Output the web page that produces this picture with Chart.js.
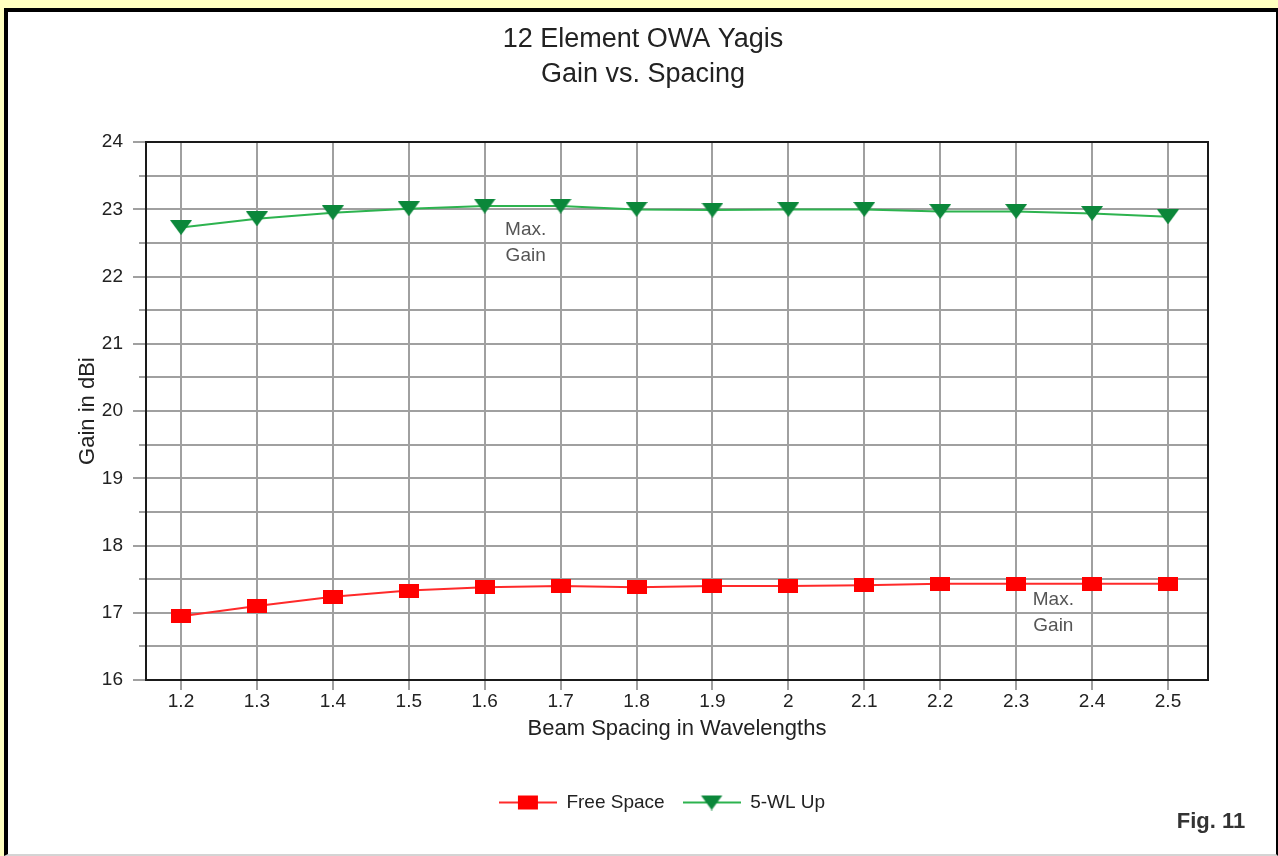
<!DOCTYPE html>
<html>
<head>
<meta charset="utf-8">
<title>12 Element OWA Yagis - Gain vs. Spacing</title>
<script src="https://cdn.jsdelivr.net/npm/chart.js@4.4.0/dist/chart.umd.min.js"></script>
<style>
  html, body { margin: 0; padding: 0; width: 1278px; height: 856px; overflow: hidden; background: #ffffc0; }
  #panel { position: absolute; left: 4px; top: 8px; width: 1268px; height: 842px; background: #fff;
           border-left: 4px solid #000; border-top: 4px solid #000; border-right: 2px solid #000; border-bottom: 2px solid #d4d4d4; }
  #wrap { position: absolute; left: 0; top: 0; width: 1278px; height: 856px; }
  #fig { position: absolute; left: 1161px; top: 808px; width: 100px; text-align: center;
         font: bold 22px 'Liberation Sans', Arial, sans-serif; color: #333; }
</style>
</head>
<body>
<div id="panel"></div>
<div id="wrap"><canvas id="chart" width="1278" height="856"></canvas></div>
<div id="fig">Fig. 11</div>
<script>
// Beam spacing (wavelengths) and gain (dBi) for the two antenna heights
const spacing   = [1.2, 1.3, 1.4, 1.5, 1.6, 1.7, 1.8, 1.9, 2.0, 2.1, 2.2, 2.3, 2.4, 2.5];
const freeSpace = [16.95, 17.10, 17.24, 17.33, 17.38, 17.40, 17.38, 17.40, 17.40, 17.41, 17.43, 17.43, 17.43, 17.43];
const fiveWlUp  = [22.73, 22.86, 22.95, 23.01, 23.05, 23.05, 23.00, 22.99, 23.00, 23.00, 22.97, 22.97, 22.94, 22.89];
const yLabels   = [16, 17, 18, 19, 20, 21, 22, 23, 24];

// "Max. Gain" notes, placed in data coordinates
const notes = [
  { x: 1.654, y: 22.69, lines: ['Max.', 'Gain'] },
  { x: 2.349, y: 17.19, lines: ['Max.', 'Gain'] }
];

const FONT = "'Liberation Sans', Arial, sans-serif";
Chart.defaults.font.family = FONT;
Chart.defaults.color = '#222';

function makeCanvas(w, h, paint) {
  const c = document.createElement('canvas');
  c.width = w; c.height = h;
  paint(c.getContext('2d'), w, h);
  return c;
}
const redSquare = makeCanvas(20, 14, (g, w, h) => { g.fillStyle = '#ff0000'; g.fillRect(0, 0, w, h); });
const greenTri = makeCanvas(22, 15, (g, w, h) => {
  g.fillStyle = '#0b873a';
  g.beginPath(); g.moveTo(0, 0); g.lineTo(w, 0); g.lineTo(w / 2, h); g.closePath(); g.fill();
});
function legendIcon(color, marker) {
  return makeCanvas(58, 16, (g, w, h) => {
    g.strokeStyle = color; g.lineWidth = 2;
    g.beginPath(); g.moveTo(0, h / 2); g.lineTo(w, h / 2); g.stroke();
    g.drawImage(marker, (w - marker.width) / 2, (h - marker.height) / 2);
  });
}
const legendIcons = [legendIcon('#ff2a2a', redSquare), legendIcon('#2db34f', greenTri)];

const plotFrame = {
  id: 'plotFrame',
  afterLayout(chart) {
    // centre the title over the panel and the legend under the plot
    if (chart.titleBlock) { chart.titleBlock.left += 39; chart.titleBlock.right += 39; }
    if (chart.legend) { chart.legend.left += 58; chart.legend.right += 58; }
  },
  beforeDatasetsDraw(chart) {
    const { ctx, chartArea: a, scales: { x, y } } = chart;
    ctx.save();
    ctx.strokeStyle = '#a0a0a0';
    ctx.lineWidth = 2;
    ctx.beginPath();
    y.ticks.forEach(t => {
      const py = Math.round(y.getPixelForValue(t.value));
      const len = Number.isInteger(t.value) ? 13 : 7;
      ctx.moveTo(a.left - len, py); ctx.lineTo(a.left, py);
    });
    x.ticks.forEach(t => {
      const px = Math.round(x.getPixelForValue(t.value));
      ctx.moveTo(px, a.bottom); ctx.lineTo(px, a.bottom + 10);
    });
    ctx.stroke();
    ctx.strokeStyle = '#1a1a1a';
    ctx.strokeRect(Math.round(a.left), Math.round(a.top), Math.round(a.width), Math.round(a.height));
    ctx.restore();
  },
  afterDatasetsDraw(chart) {
    const { ctx, scales: { x, y } } = chart;
    ctx.save();
    ctx.font = '19px ' + FONT;
    ctx.fillStyle = '#555';
    ctx.textAlign = 'center';
    ctx.textBaseline = 'middle';
    notes.forEach(n => {
      const px = x.getPixelForValue(n.x), py = y.getPixelForValue(n.y);
      n.lines.forEach((s, i) => ctx.fillText(s, px, py + i * 26));
    });
    ctx.restore();
  }
};

new Chart(document.getElementById('chart'), {
  type: 'line',
  data: {
    datasets: [
      {
        label: 'Free Space',
        data: spacing.map((v, i) => ({ x: v, y: freeSpace[i] })),
        borderColor: '#ff2a2a', backgroundColor: '#ff0000', borderWidth: 2,
        pointStyle: redSquare, pointRadius: 10, tension: 0
      },
      {
        label: '5-WL Up',
        data: spacing.map((v, i) => ({ x: v, y: fiveWlUp[i] })),
        borderColor: '#2db34f', backgroundColor: '#0b873a', borderWidth: 2,
        pointStyle: greenTri, pointRadius: 10, tension: 0
      }
    ]
  },
  options: {
    responsive: false,
    animation: false,
    devicePixelRatio: 1,
    layout: { padding: { left: 0, right: 70, top: 0, bottom: 34 } },
    scales: {
      x: {
        type: 'linear',
        min: 1.1539, max: 2.5527,
        afterBuildTicks: s => { s.ticks = spacing.map(v => ({ value: v })); },
        afterFit: s => { s.height = 95; },
        grid: { color: '#a0a0a0', lineWidth: 2, drawTicks: false },
        border: { display: false },
        ticks: { padding: 10, autoSkip: false, maxRotation: 0, color: '#222', font: { size: 19 }, callback: v => String(v) },
        title: { display: true, text: 'Beam Spacing in Wavelengths', color: '#222', font: { size: 22 }, padding: { top: 0, bottom: 33 } }
      },
      y: {
        min: 16, max: 24,
        afterFit: s => { s.width = 146; },
        grid: { color: '#a0a0a0', lineWidth: 2, drawTicks: false },
        border: { display: false },
        ticks: { stepSize: 0.5, autoSkip: false, padding: 23, color: '#222', font: { size: 19 },
                 callback: v => yLabels.includes(v) ? String(v) : '' },
        title: { display: true, text: 'Gain in dBi', color: '#222', font: { size: 22 }, padding: { top: 75, bottom: 0 } }
      }
    },
    plugins: {
      title: {
        display: true,
        text: ['12 Element OWA Yagis', 'Gain vs. Spacing'],
        color: '#222',
        font: { size: 27, weight: 'normal', lineHeight: 1.3 },
        padding: { top: 22, bottom: 50 }
      },
      legend: {
        position: 'bottom',
        labels: {
          usePointStyle: true, pointStyleWidth: 58, padding: 18, color: '#222', font: { size: 19 },
          generateLabels(chart) {
            const items = Chart.defaults.plugins.legend.labels.generateLabels(chart);
            items.forEach((it, i) => { it.pointStyle = legendIcons[i]; });
            return items;
          }
        }
      },
      tooltip: { enabled: false }
    }
  },
  plugins: [plotFrame]
});
</script>
</body>
</html>
